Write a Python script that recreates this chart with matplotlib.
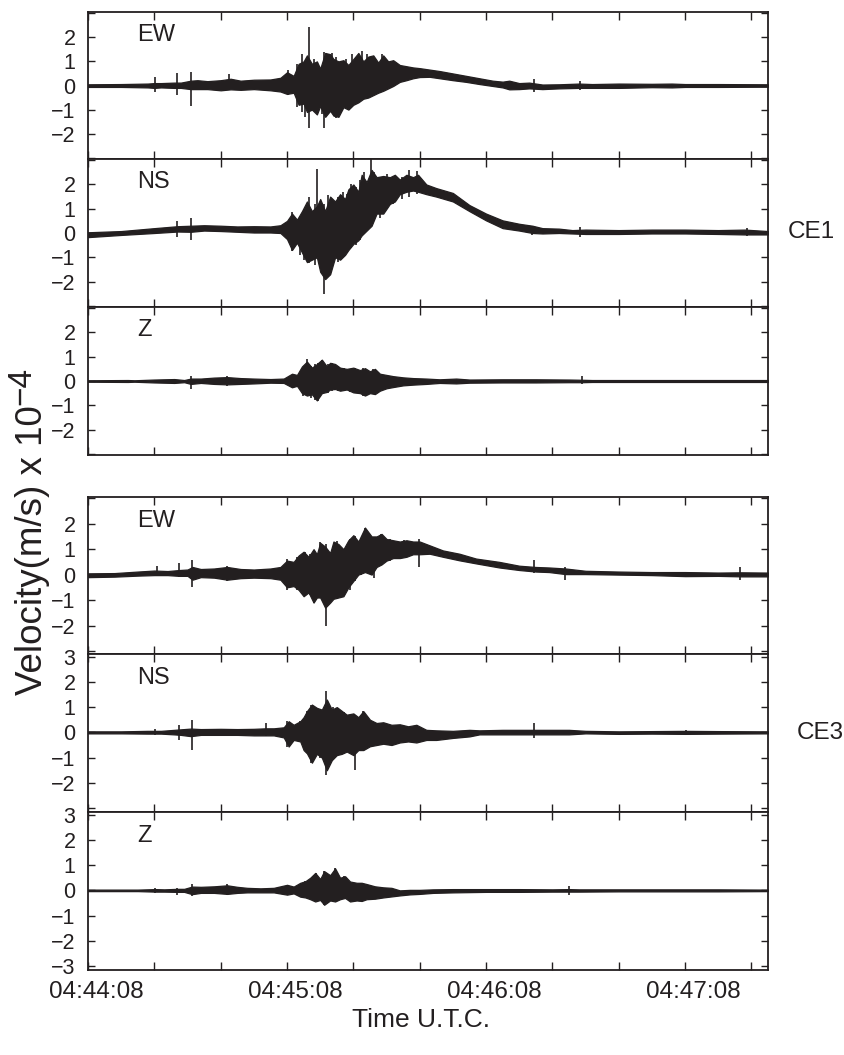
import matplotlib
matplotlib.use("Agg")
import matplotlib.pyplot as plt
from matplotlib.transforms import ScaledTranslation

plt.rcParams['font.family'] = ['Liberation Sans', 'DejaVu Sans']

INK = '#231f20'

# time axis: seconds after 04:44:08 UTC
XTICKS = list(range(0, 201, 20))
XLABEL_POS = [0, 60, 120, 180]
XLABEL_TXT = ['04:44:08', '04:45:08', '04:46:08', '04:47:08']

# ---- CE1 EW (envelope of trace, x 1e-4 m/s) ----
CE1_EW_T = [0, 10, 18, 20, 22, 26, 28, 31, 33, 36, 40, 43, 46, 50, 55, 58, 60, 62, 63.5, 65, 66, 67.5, 69, 70,
            71.5, 73, 74, 75.5, 77, 78.5, 80, 81.5, 83, 84.5, 86, 87.5, 89, 90.5, 92, 94, 96, 98, 100, 103, 106,
            110, 114, 118, 122, 125, 127, 130, 133, 137, 142, 148, 152, 160, 170, 176, 180, 190, 205]
CE1_EW_HI = [.05, .06, .08, .1, .1, .12, .12, .2, .22, .18, .22, .28, .2, .24, .25, .32, .55, .4, .9, 1.0, 1.25, .9,
             1.0, .7, 1.35, 1.3, 1.1, 1.0, 1.05, .85, 1.1, 1.35, 1.0, 1.2, 1.25, .95, 1.25, 1.0, 1.05, .85, .8, .75,
             .72, .66, .6, .5, .4, .3, .2, .16, .2, .1, .12, .04, .05, .08, .06, .08, .07, .08, .06, .06, .05]
CE1_EW_LO = [-.06, -.06, -.08, -.1, -.08, -.1, -.1, -.15, -.15, -.15, -.2, -.16, -.18, -.15, -.2, -.25, -.35, -.3,
             -.8, -.75, -1.1, -1.0, -1.2, -.85, -1.3, -1.05, -1.25, -1.3, -.9, -1.0, -.8, -.7, -.55, -.5, -.4, -.3,
             -.22, -.12, -.02, .15, .22, .3, .35, .36, .3, .22, .15, .06, -.02, -.08, -.16, -.15, -.12, -.15, -.12,
             -.1, -.1, -.1, -.07, -.08, -.06, -.06, -.05]
CE1_EW_SPK_T = [20.3, 26.8, 31.1, 42.5, 60.2, 63.0, 64.5, 65.3, 66.7, 68.2, 70.5, 71.2, 72.4, 73.5, 74.8, 76.2,
                77.8, 79.6, 81.0, 82.6, 84.0, 85.8, 88.6, 90.0, 134.6, 148.4]
CE1_EW_SPK_HI = [.34, .5, .58, .46, .65, .9, 1.3, 1.0, 2.43, 1.1, .8, 1.4, 1.3, 1.35, 1.2, 1.0, 1.1, 1.3, 1.0, 1.45,
                 1.3, 1.2, 1.3, 1.05, .25, .2]
CE1_EW_SPK_LO = [-.27, -.4, -.84, -.1, -.4, -.9, -1.1, -1.3, -1.78, -1.0, -1.2, -1.78, -1.2, -1.1, -1.35, -1.1,
                 -.9, -.9, -.7, -.4, -.5, -.35, -.2, -.1, -.25, -.2]

# ---- CE1 NS ----
CE1_NS_T = [0, 10, 20, 27, 31, 35, 40, 45, 50, 55, 58, 60, 61.5, 63, 64.5, 66, 67.5, 69, 70, 71.5, 73, 74.5, 76,
            77.5, 78.5, 80, 81.5, 82.5, 84, 85.5, 87, 89, 91, 92.5, 94, 96, 98, 99.5, 102, 105, 110, 115, 120, 125,
            130, 134, 137, 142, 146, 150, 160, 170, 180, 190, 198, 205]
CE1_NS_HI = [.03, .08, .2, .28, .3, .32, .3, .27, .28, .27, .32, .5, .8, .55, .9, 1.3, .9, 1.1, 1.4, .9, 1.5, 1.3,
             1.6, 1.4, 1.8, 2.0, 1.7, 2.4, 2.1, 2.6, 2.3, 2.35, 2.3, 2.4, 2.2, 2.4, 2.3, 2.4, 2.0, 1.85, 1.65, 1.15,
             .8, .52, .38, .3, .2, .18, .12, .14, .12, .14, .14, .12, .14, .08]
CE1_NS_LO = [-.17, -.08, 0, .06, .05, .1, .08, .05, .02, .02, 0, -.25, -.7, -.4, -.8, -1.2, -1.1, -1.0, -1.6, -1.9,
             -1.7, -1.0, -1.1, -.9, -.7, -.45, -.3, -.1, .1, .3, .8, .8, 1.2, 1.3, 1.6, 1.7, 1.75, 1.7, 1.6, 1.5,
             1.3, .9, .52, .2, .1, 0, -.02, 0, -.02, -.04, -.04, -.02, -.02, -.04, -.06, -.06]
CE1_NS_SPK_T = [26.8, 31.1, 61.4, 63.8, 65.2, 66.7, 68.3, 69.0, 70.4, 71.2, 72.5, 73.8, 75.3, 76.8, 78.0, 79.4,
                80.8, 82.0, 83.2, 85.2, 86.2, 88.0, 90.0, 92.0, 94.8, 96.7, 99.3, 134.0, 148.4, 198.7]
CE1_NS_SPK_HI = [.5, .6, .87, .7, 1.0, 1.5, 1.2, 2.63, 1.1, 1.2, 1.58, 1.2, 1.5, 1.7, 1.6, 2.0, 1.9, 2.2, 2.5,
                 3.05, 2.5, 2.3, 2.45, 2.3, 2.3, 2.6, 2.56, .3, .25, .2]
CE1_NS_SPK_LO = [-.15, -.3, -.75, -.9, -1.1, -1.24, -1.3, -.96, -1.4, -2.5, -1.8, -1.3, -1.2, -1.0, -.8, -.6, -.5,
                 -.3, 0, .3, .5, .6, 1.0, 1.2, 1.4, 1.5, 1.6, -.1, -.15, -.12]

# ---- CE1 Z ----
CE1_Z_T = [0, 12, 14, 20, 26, 29, 31, 34, 38, 42, 46, 50, 55, 59, 61.5, 63, 64.5, 66, 67.5, 69, 70.5, 72, 73, 74.5,
           76, 78, 80, 82, 83.5, 85, 86.5, 88, 90, 92, 95, 98, 102, 106, 111, 115, 125, 135, 145, 149, 152, 170, 205]
CE1_Z_HI = [.03, .04, .03, .06, .08, .04, .1, .1, .14, .16, .12, .1, .08, .1, .3, .25, .6, .8, .55, .7, .88, .6, .75,
            .7, .55, .5, .55, .45, .53, .4, .5, .3, .25, .2, .15, .12, .1, .07, .1, .06, .07, .07, .06, .05, .04,
            .04, .04]
CE1_Z_LO = [-.03, -.04, -.03, -.06, -.08, -.05, -.12, -.08, -.12, -.14, -.12, -.1, -.07, -.08, -.26, -.2, -.5, -.6,
            -.55, -.8, -.5, -.45, -.35, -.33, -.4, -.35, -.47, -.5, -.6, -.5, -.54, -.4, -.3, -.25, -.18, -.15, -.12,
            -.08, -.1, -.07, -.06, -.06, -.05, -.05, -.04, -.04, -.04]
CE1_Z_SPK_T = [31.1, 42.0, 64.8, 66.0, 67.2, 68.4, 69.3, 70.6, 72.3, 73.6, 75.4, 77.2, 79.0, 80.6, 83.0, 85.8, 149.0]
CE1_Z_SPK_HI = [.2, .2, .55, .9, .6, .7, .75, .88, .7, .75, .6, .55, .5, .55, .53, .5, .2]
CE1_Z_SPK_LO = [-.33, -.2, -.6, -.5, -.7, -.8, -.83, -.55, -.5, -.4, -.4, -.38, -.45, -.5, -.6, -.55, -.14]

# ---- CE3 EW ----
CE3_EW_T = [0, 8, 15, 20, 24, 27.5, 30, 31.5, 34, 38, 42, 46, 50, 55, 58, 60, 62, 63.5, 65, 66.5, 68, 69, 70, 71.5,
            73, 74, 75.5, 77, 78.5, 80, 81.5, 83.5, 85.5, 87, 88.5, 90, 92, 94, 96, 98, 100, 103, 107, 112, 117,
            124, 130, 135, 139, 144, 150, 160, 170, 180, 190, 197, 205]
CE3_EW_HI = [.05, .06, .12, .16, .14, .18, .2, .3, .22, .24, .3, .22, .2, .24, .3, .55, .5, .75, .9, .7, 1.0, .8,
             1.25, 1.1, .85, 1.3, 1.2, 1.0, 1.35, 1.55, 1.3, 1.85, 1.5, 1.5, 1.6, 1.4, 1.35, 1.3, 1.35, 1.3, 1.3,
             1.15, .95, .82, .63, .5, .35, .3, .28, .24, .15, .12, .1, .1, .08, .09, .08]
CE3_EW_LO = [-.1, -.08, -.04, -.02, -.02, -.05, -.05, -.2, -.1, -.12, -.2, -.14, -.12, -.14, -.2, -.5, -.45, -.6,
             -.85, -.7, -1.1, -.9, -.9, -1.3, -1.1, -.95, -.9, -.85, -.5, -.25, 0, .1, 0, .3, .4, .55, .65, .65, .7,
             .8, .8, .82, .7, .56, .44, .28, .18, .12, .1, .02, .02, 0, -.02, -.06, -.05, -.07, -.07]
CE3_EW_SPK_T = [20.9, 27.5, 31.4, 41.8, 60.0, 63.0, 65.4, 67.0, 68.0, 69.8, 71.6, 72.8, 75.2, 77.1, 79.0, 80.5,
                82.3, 83.4, 86.3, 88.2, 91.0, 95.4, 99.7, 134.6, 143.8, 196.7]
CE3_EW_SPK_HI = [.33, .44, .56, .33, .63, .7, .88, .8, .95, 1.27, 1.2, .9, 1.33, 1.0, 1.4, 1.53, 1.45, 1.85, 1.4,
                 1.6, 1.4, 1.35, 1.4, .56, .3, .28]
CE3_EW_SPK_LO = [-.02, -.08, -.49, -.27, -.59, -.6, -.85, -.8, -1.1, -.9, -2.0, -1.1, -.97, -.85, -.6, -.27, 0, .12,
                 -.14, .37, .55, .69, .31, .05, -.2, -.23]

# ---- CE3 NS ----
CE3_NS_T = [0, 10, 18, 20.3, 22, 26, 28, 31, 34, 40, 45, 50, 53.5, 56, 59, 60.5, 62, 64, 65, 66, 67.5, 69, 70.5, 72,
            73.5, 75, 76.5, 78, 80, 81.5, 83, 85, 87, 89, 91.5, 94, 96.5, 99, 102, 105, 110, 115, 118, 125, 130,
            134.5, 137, 145, 150, 160, 170, 180, 190, 205]
CE3_NS_HI = [.04, .04, .06, .06, .06, .1, .12, .15, .13, .14, .13, .14, .16, .16, .2, .44, .3, .44, .6, .84, 1.1,
             .97, .9, 1.3, .9, 1.0, .85, .7, .75, .6, .84, .5, .37, .4, .3, .32, .24, .3, .1, .08, .06, .1, .08, .1,
             .1, .1, .1, .1, .06, .04, .05, .06, .05, .04]
CE3_NS_LO = [-.04, -.04, -.05, -.05, -.05, -.08, -.1, -.15, -.1, -.1, -.1, -.12, -.12, -.12, -.2, -.56, -.3, -.36,
             -.7, -.83, -1.2, -.85, -1.0, -1.5, -1.1, -.9, -.85, -.76, -.9, -.7, -.7, -.55, -.5, -.45, -.5, -.4,
             -.36, -.4, -.3, -.3, -.22, -.16, -.08, -.08, -.08, -.08, -.08, -.08, -.04, -.06, -.05, -.06, -.05,
             -.04]
CE3_NS_SPK_T = [20.3, 27.5, 31.4, 53.6, 60.1, 64.0, 66.0, 67.3, 68.6, 70.0, 71.9, 73.9, 75.8, 77.2, 78.4, 80.4,
                83.0, 86.3, 90.0, 134.6, 180.4]
CE3_NS_SPK_HI = [.13, .3, .5, .37, .44, .44, .84, 1.1, .97, .9, 1.64, 1.0, .9, .8, .64, .7, .84, .37, .35, .37, .1]
CE3_NS_SPK_LO = [-.09, -.32, -.7, -.16, -.56, -.36, -.83, -1.23, -.9, -1.0, -1.7, -1.1, -.9, -.85, -.76, -1.5,
                 -.7, -.5, -.5, -.22, -.1]

# ---- CE3 Z ----
CE3_Z_T = [0, 15, 20.3, 23, 26.8, 29, 31.4, 34, 38, 42, 45, 48, 52, 56, 60, 62, 64, 65.5, 67, 68.5, 70, 71.2, 73,
           74.5, 76, 77.5, 79, 81, 82.5, 84, 86.5, 89, 91.5, 94, 97, 100, 104, 110, 120, 130, 140, 145, 148, 160,
           175, 190, 205]
CE3_Z_HI = [.03, .03, .05, .04, .06, .06, .15, .14, .16, .2, .14, .1, .08, .1, .22, .15, .3, .36, .5, .69, .45, .76,
            .6, .87, .5, .56, .35, .3, .3, .25, .16, .12, .1, 0, .02, .02, .04, .05, .05, .05, .04, .05, .04, .04,
            .04, .04, .03]
CE3_Z_LO = [-.03, -.03, -.05, -.05, -.06, -.06, -.15, -.1, -.1, -.14, -.1, -.08, -.08, -.08, -.17, -.12, -.25,
            -.28, -.35, -.44, -.38, -.57, -.4, -.44, -.35, -.3, -.44, -.4, -.42, -.35, -.33, -.28, -.24, -.2, -.16,
            -.14, -.1, -.08, -.06, -.06, -.05, -.05, -.05, -.04, -.04, -.04, -.03]
CE3_Z_SPK_T = [20.3, 26.8, 31.4, 41.8, 65.4, 67.5, 68.6, 70.2, 71.2, 72.5, 74.5, 76.3, 77.1, 79.0, 82.4, 145.0]
CE3_Z_SPK_HI = [.1, .08, .25, .25, .36, .5, .69, .45, .76, .6, .87, .5, .56, .3, .3, .16]
CE3_Z_SPK_LO = [-.09, -.17, -.24, -.17, -.28, -.35, -.44, -.4, -.57, -.4, -.44, -.35, -.3, -.44, -.42, -.2]

PANELS = [
    ('EW', CE1_EW_T, CE1_EW_HI, CE1_EW_LO, CE1_EW_SPK_T, CE1_EW_SPK_HI, CE1_EW_SPK_LO),
    ('NS', CE1_NS_T, CE1_NS_HI, CE1_NS_LO, CE1_NS_SPK_T, CE1_NS_SPK_HI, CE1_NS_SPK_LO),
    ('Z', CE1_Z_T, CE1_Z_HI, CE1_Z_LO, CE1_Z_SPK_T, CE1_Z_SPK_HI, CE1_Z_SPK_LO),
    ('EW', CE3_EW_T, CE3_EW_HI, CE3_EW_LO, CE3_EW_SPK_T, CE3_EW_SPK_HI, CE3_EW_SPK_LO),
    ('NS', CE3_NS_T, CE3_NS_HI, CE3_NS_LO, CE3_NS_SPK_T, CE3_NS_SPK_HI, CE3_NS_SPK_LO),
    ('Z', CE3_Z_T, CE3_Z_HI, CE3_Z_LO, CE3_Z_SPK_T, CE3_Z_SPK_HI, CE3_Z_SPK_LO),
]

# panel frames in pixels (top, bottom), figure is 844 x 1055
FRAMES = [(12, 159), (159, 307), (307, 455), (497, 654), (654, 812), (812, 970)]
# y tick labels shown per panel
YLAB = [[-2, -1, 0, 1, 2], [-2, -1, 0, 1, 2], [-2, -1, 0, 1, 2],
        [-2, -1, 0, 1, 2], [-2, -1, 0, 1, 2, 3], [-3, -2, -1, 0, 1, 2, 3]]
YLIMS = [(-3.05, 3.05)] * 3 + [(-3.12, 3.05), (-3.15, 3.1), (-3.15, 3.1)]

W, H = 844, 1055
fig = plt.figure(figsize=(W / 100, H / 100), dpi=100)
left, right = 88, 768

for i, (name, t, hi, lo, st, shi, slo) in enumerate(PANELS):
    top, bot = FRAMES[i]
    ax = fig.add_axes([left / W, 1 - bot / H, (right - left) / W, (bot - top) / H])
    ax.fill_between(t, lo, hi, color=INK, lw=0.9, edgecolor=INK)
    ax.vlines(st, slo, shi, color=INK, lw=1.2)
    ax.set_xlim(0, 205)
    ax.set_ylim(*YLIMS[i])
    ax.set_yticks(range(-3, 4))
    ax.set_yticklabels([(f'\u2212{-v}' if v < 0 else str(v)) if v in YLAB[i] else '' for v in range(-3, 4)])
    ax.set_xticks(XTICKS)
    last = i == len(PANELS) - 1
    if last:
        ax.set_xticklabels([XLABEL_TXT[XLABEL_POS.index(v)] if v in XLABEL_POS else '' for v in XTICKS])
    else:
        ax.set_xticklabels([])
    ax.tick_params(axis='x', direction='in', top=True, bottom=True, length=6, width=1, colors=INK,
                   labelsize=17.5, pad=8, labelcolor=INK)
    ax.tick_params(axis='y', direction='in', left=True, right=True, length=5, width=1, colors=INK,
                   labelsize=15.5, pad=9, labelcolor=INK)
    if last:
        # labels in the original sit a little right of their ticks
        off = ScaledTranslation(8 / 100, 0, fig.dpi_scale_trans)
        for lab in ax.get_xticklabels():
            lab.set_transform(lab.get_transform() + off)
    for s in ax.spines.values():
        s.set_color(INK)
        s.set_linewidth(1.3)
    ax.text(0.072, 0.92, name, transform=ax.transAxes, fontsize=17, color=INK, va='top', ha='left')

fig.text(788 / W, 1 - 232 / H, 'CE1', fontsize=17.5, color=INK, va='center', ha='left')
fig.text(797 / W, 1 - 733 / H, 'CE3', fontsize=17.5, color=INK, va='center', ha='left')
fig.text(421 / W, 1 - 1020 / H, 'Time U.T.C.', fontsize=19, color=INK, va='center', ha='center')
fig.text(33 / W, 1 - 550 / H, 'Velocity(m/s) x 10', fontsize=26.5, color=INK, rotation=90,
         va='center', ha='center')
fig.text(22 / W, 1 - 386 / H, '\u22124', fontsize=24, color=INK, rotation=90, va='center', ha='center')

fig.savefig('out.png', dpi=100)
